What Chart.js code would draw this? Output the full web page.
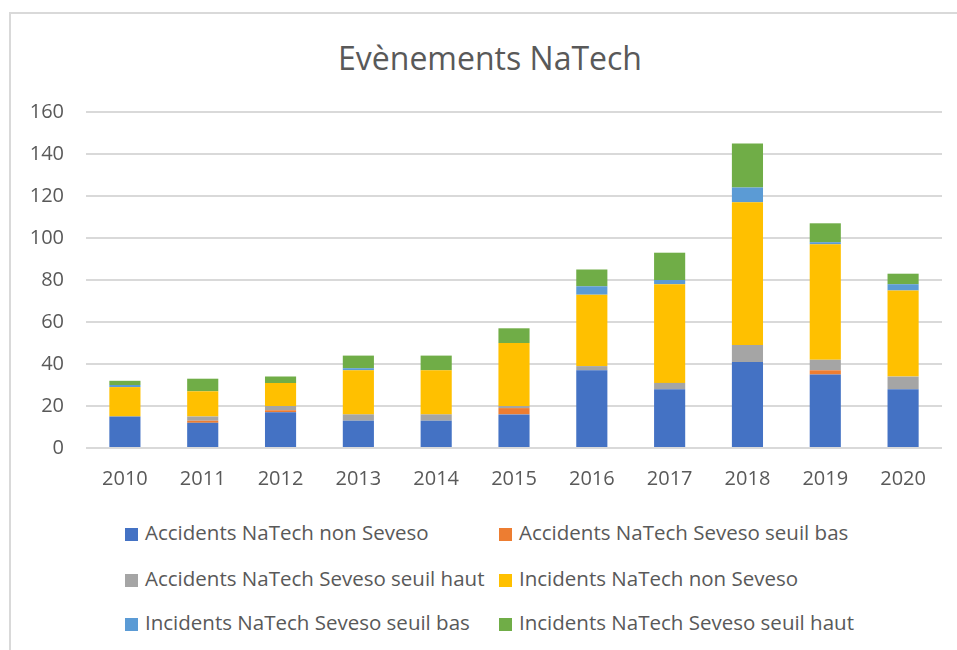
<!DOCTYPE html>
<html>
<head>
<meta charset="utf-8">
<script src="https://cdn.jsdelivr.net/npm/chart.js@4.4.1/dist/chart.umd.min.js"></script>
<style>
    body {
        margin: 0;
        background: #ffffff;
        font-family: "Open Sans", "Noto Sans", sans-serif;
    }
    #wrap {
        position: relative;
        width: 957px;
        height: 650px;
        overflow: hidden;
    }
    #frame {
        position: absolute;
        left: 9px;
        top: 12px;
        width: 960px;
        height: 650px;
        border-left: 2px solid #d9d9d9;
        border-top: 2px solid #d9d9d9;
    }
    #title {
        position: absolute;
        left: 290px;
        width: 400px;
        top: 36px;
        text-align: center;
        font-size: 32px;
        line-height: 44px;
        color: #595959;
        white-space: nowrap;
    }
    #chartBox {
        position: absolute;
        left: 0;
        top: 0;
        width: 957px;
        height: 500px;
    }
    .legend-item {
        position: absolute;
        height: 26px;
        line-height: 26px;
        font-size: 20.5px;
        color: #595959;
        white-space: nowrap;
    }
    .legend-item span.sw {
        display: inline-block;
        width: 13px;
        height: 13px;
        margin-right: 7px;
        vertical-align: -1px;
    }
</style>
</head>
<body>
<div id="wrap">
    <div id="frame"></div>
    <div id="title">Evènements NaTech</div>
    <div id="chartBox"><canvas id="natech" width="957" height="500"></canvas></div>
    <div id="legend"></div>
</div>

<script>
// -----------------------------
// DATA
// -----------------------------
const years = ["2010", "2011", "2012", "2013", "2014", "2015",
               "2016", "2017", "2018", "2019", "2020"];

const accNonSeveso   = [15, 12, 17, 13, 13, 16, 37, 28, 41, 35, 28];
const accSevesoBas   = [0, 1, 1, 0, 0, 3, 0, 0, 0, 2, 0];
const accSevesoHaut  = [0, 2, 2, 3, 3, 1, 2, 3, 8, 5, 6];
const incNonSeveso   = [14, 12, 11, 21, 21, 30, 34, 47, 68, 55, 41];
const incSevesoBas   = [1, 0, 0, 1, 0, 0, 4, 2, 7, 1, 3];
const incSevesoHaut  = [2, 6, 3, 6, 7, 7, 8, 13, 21, 9, 5];

const seriesLabels = [
    "Accidents NaTech non Seveso",
    "Accidents NaTech Seveso seuil bas",
    "Accidents NaTech Seveso seuil haut",
    "Incidents NaTech non Seveso",
    "Incidents NaTech Seveso seuil bas",
    "Incidents NaTech Seveso seuil haut"
];

const seriesColors = ["#4472C4", "#ED7D31", "#A5A5A5", "#FFC000", "#5B9BD5", "#70AD47"];

const seriesValues = [accNonSeveso, accSevesoBas, accSevesoHaut,
                      incNonSeveso, incSevesoBas, incSevesoHaut];

// -----------------------------
// CHART
// -----------------------------
const textColor = "#595959";
const gridColor = "#d9d9d9";
const fontFamily = "'Open Sans', 'Noto Sans', sans-serif";

const datasets = seriesLabels.map((label, i) => ({
    label: label,
    data: seriesValues[i],
    backgroundColor: seriesColors[i],
    borderWidth: 0,
    barPercentage: 0.4,
    categoryPercentage: 1.0
}));

const ctx = document.getElementById("natech").getContext("2d");

new Chart(ctx, {
    type: "bar",
    data: {
        labels: years,
        datasets: datasets
    },
    options: {
        responsive: false,
        animation: false,
        layout: {
            padding: { left: 0, right: 15, top: 112, bottom: 0 }
        },
        plugins: {
            legend: { display: false },
            tooltip: { enabled: false },
            title: { display: false }
        },
        scales: {
            x: {
                stacked: true,
                grid: { display: false, drawTicks: false },
                border: { display: false },
                ticks: {
                    color: textColor,
                    padding: 19,
                    font: { family: fontFamily, size: 20 }
                },
                afterFit: (scale) => { scale.height = 52; }
            },
            y: {
                stacked: true,
                min: 0,
                max: 160,
                grid: { color: gridColor, lineWidth: 2, drawTicks: false },
                border: { display: false },
                ticks: {
                    stepSize: 20,
                    color: textColor,
                    padding: 22,
                    font: { family: fontFamily, size: 20 }
                },
                afterFit: (scale) => { scale.width = 86; }
            }
        }
    }
});

// -----------------------------
// LEGEND (two columns)
// -----------------------------
const legendBox = document.getElementById("legend");
const colX = [125, 499];
const rowY = [519, 565, 609];

seriesLabels.forEach((label, i) => {
    const item = document.createElement("div");
    item.className = "legend-item";
    item.style.left = colX[i % 2] + "px";
    item.style.top = rowY[Math.floor(i / 2)] + "px";
    item.innerHTML = `<span class="sw" style="background:${seriesColors[i]}"></span>${label}`;
    legendBox.appendChild(item);
});
</script>
</body>
</html>
